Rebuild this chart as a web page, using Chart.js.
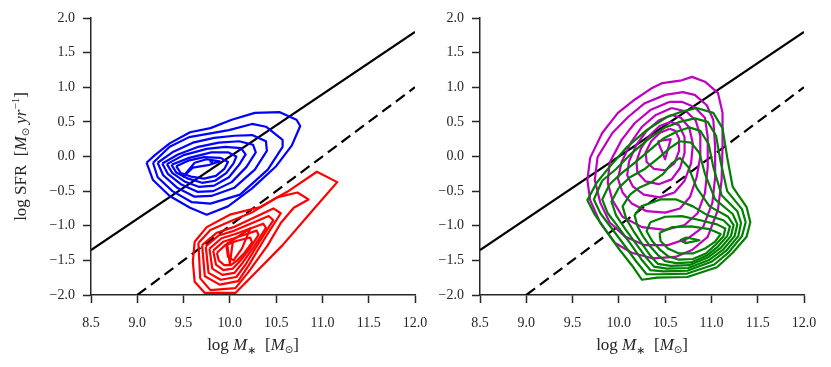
<!DOCTYPE html>
<html>
<head>
<meta charset="utf-8">
<script src="https://cdn.jsdelivr.net/npm/chart.js@4.4.1/dist/chart.umd.min.js"></script>
<style>
  body { margin: 0; background: #fff; }
  #wrap { position: relative; width: 831px; height: 367px; }
  canvas { position: absolute; top: 0; }
</style>
</head>
<body>
<div id="wrap">
  <canvas id="left" width="445" height="367" style="left:0"></canvas>
  <canvas id="right" width="401" height="367" style="left:430px"></canvas>
</div>
<script>
// axis ticks
const xTicks = [8.5, 9.0, 9.5, 10.0, 10.5, 11.0, 11.5, 12.0];
const yTicks = [-2.0, -1.5, -1.0, -0.5, 0.0, 0.5, 1.0, 1.5, 2.0];

// reference lines (log M*, log SFR)
const solidLine = [[8.5, -1.35], [12.0, 1.8]];
const dashedLine = [[9.0, -2.0], [12.0, 1.0]];

// density contours, outer level first
const blueLevels = [
  [[9.10,-0.09],[9.17,-0.34],[9.35,-0.57],[9.57,-0.74],[9.75,-0.84],[9.98,-0.72],[10.24,-0.46],[10.50,-0.14],[10.67,0.16],[10.76,0.44],[10.72,0.53],[10.54,0.64],[10.27,0.63],[10.02,0.53],[9.79,0.41],[9.57,0.35],[9.35,0.19],[9.19,0.02]],
  [[9.17,-0.09],[9.22,-0.30],[9.38,-0.50],[9.59,-0.66],[9.79,-0.68],[10.11,-0.55],[10.41,-0.19],[10.57,0.14],[10.57,0.24],[10.39,0.43],[10.24,0.47],[9.99,0.38],[9.56,0.28],[9.35,0.14]],
  [[9.22,-0.09],[9.28,-0.27],[9.43,-0.45],[9.62,-0.58],[9.80,-0.57],[10.05,-0.45],[10.27,-0.19],[10.40,0.08],[10.39,0.22],[10.24,0.31],[10.05,0.30],[9.83,0.27],[9.60,0.20],[9.39,0.07]],
  [[9.27,-0.10],[9.33,-0.25],[9.47,-0.40],[9.65,-0.51],[9.82,-0.50],[10.02,-0.37],[10.18,-0.15],[10.28,0.06],[10.25,0.17],[10.10,0.22],[9.88,0.20],[9.66,0.14],[9.44,0.03]],
  [[9.32,-0.11],[9.38,-0.24],[9.51,-0.36],[9.67,-0.44],[9.83,-0.42],[9.99,-0.30],[10.10,-0.12],[10.17,0.03],[10.12,0.12],[9.95,0.14],[9.75,0.11],[9.50,0.02]],
  [[9.37,-0.12],[9.42,-0.23],[9.55,-0.32],[9.70,-0.38],[9.84,-0.35],[9.96,-0.24],[10.04,-0.10],[10.07,0.00],[9.98,0.06],[9.80,0.06],[9.56,-0.02]],
  [[9.42,-0.14],[9.47,-0.24],[9.58,-0.29],[9.72,-0.32],[9.85,-0.28],[9.94,-0.18],[9.98,-0.08],[9.90,-0.02],[9.72,-0.01],[9.55,-0.06]],
  [[9.49,-0.30],[9.55,-0.20],[9.62,-0.09],[9.75,-0.04],[9.89,-0.07],[9.78,-0.12],[9.60,-0.16]],
  [[9.78,-0.07],[9.80,-0.06],[9.81,-0.08]]
];

const redLevels = [
  [[9.62,-1.23],[9.75,-1.02],[10.00,-0.84],[10.33,-0.73],[10.62,-0.51],[10.94,-0.22],[11.16,-0.37],[10.90,-0.77],[10.57,-1.28],[10.18,-1.81],[10.06,-1.97],[9.73,-1.97],[9.62,-1.81],[9.60,-1.52]],
  [[9.66,-1.25],[9.79,-1.06],[10.00,-0.94],[10.25,-0.80],[10.51,-0.59],[10.73,-0.52],[10.85,-0.62],[10.69,-0.74],[10.55,-0.96],[10.41,-1.28],[10.20,-1.67],[10.06,-1.90],[9.79,-1.93],[9.68,-1.76]],
  [[9.70,-1.28],[9.86,-1.10],[10.04,-1.02],[10.47,-0.75],[10.55,-0.82],[10.36,-1.22],[10.20,-1.58],[10.09,-1.80],[9.89,-1.85],[9.73,-1.73]],
  [[9.74,-1.30],[9.88,-1.14],[10.05,-1.07],[10.42,-0.86],[10.47,-0.92],[10.31,-1.25],[10.17,-1.56],[10.07,-1.74],[9.90,-1.78],[9.77,-1.68]],
  [[9.78,-1.33],[9.91,-1.18],[10.06,-1.12],[10.36,-0.97],[10.39,-1.03],[10.26,-1.30],[10.14,-1.53],[10.05,-1.68],[9.92,-1.71],[9.81,-1.62]],
  [[9.82,-1.36],[9.93,-1.23],[10.07,-1.17],[10.29,-1.07],[10.31,-1.13],[10.21,-1.34],[10.11,-1.51],[10.03,-1.62],[9.93,-1.64],[9.85,-1.56]],
  [[9.86,-1.39],[9.95,-1.28],[10.07,-1.22],[10.22,-1.17],[10.24,-1.24],[10.16,-1.39],[10.08,-1.50],[10.01,-1.57],[9.94,-1.57],[9.88,-1.50]],
  [[9.96,-1.27],[10.22,-1.04],[10.13,-1.33],[10.04,-1.50],[9.98,-1.45]],
  [[9.97,-1.25],[10.03,-1.25],[10.00,-1.55]]
];

const greenLevels = [
  [[9.76,-0.38],[9.66,-0.63],[9.74,-0.84],[9.87,-1.09],[10.01,-1.35],[10.14,-1.57],[10.25,-1.78],[10.41,-1.75],[10.74,-1.74],[11.06,-1.60],[11.23,-1.39],[11.38,-1.16],[11.42,-0.95],[11.38,-0.73],[11.23,-0.44],[11.17,-0.01],[11.12,0.41],[11.02,0.63],[10.84,0.70],[10.66,0.64],[10.52,0.57],[10.30,0.38],[10.09,0.14],[9.90,-0.15]],
  [[9.82,-0.35],[9.73,-0.62],[9.80,-0.82],[9.93,-1.05],[10.07,-1.30],[10.19,-1.52],[10.30,-1.70],[10.45,-1.70],[10.74,-1.69],[11.03,-1.56],[11.19,-1.38],[11.33,-1.15],[11.37,-0.95],[11.33,-0.76],[11.17,-0.50],[11.10,-0.08],[11.05,0.30],[10.96,0.50],[10.82,0.55],[10.66,0.50],[10.50,0.42],[10.32,0.25],[10.14,0.05],[9.97,-0.18]],
  [[9.90,-0.40],[9.82,-0.62],[9.88,-0.82],[10.00,-1.03],[10.13,-1.27],[10.24,-1.48],[10.34,-1.64],[10.48,-1.66],[10.74,-1.65],[11.00,-1.52],[11.16,-1.36],[11.29,-1.15],[11.32,-0.96],[11.28,-0.79],[11.11,-0.56],[11.02,-0.15],[10.97,0.18],[10.88,0.37],[10.76,0.42],[10.63,0.36],[10.48,0.26],[10.34,0.10],[10.18,-0.08],[10.03,-0.24]],
  [[10.00,-0.45],[9.92,-0.65],[9.97,-0.85],[10.07,-1.05],[10.19,-1.27],[10.29,-1.45],[10.38,-1.59],[10.52,-1.62],[10.75,-1.61],[10.98,-1.49],[11.13,-1.34],[11.25,-1.15],[11.28,-0.98],[11.23,-0.83],[11.04,-0.62],[10.93,-0.25],[10.87,0.05],[10.78,0.20],[10.66,0.22],[10.55,0.12],[10.43,-0.02],[10.28,-0.18],[10.12,-0.30]],
  [[10.12,-0.55],[10.04,-0.72],[10.08,-0.90],[10.16,-1.08],[10.26,-1.28],[10.34,-1.43],[10.42,-1.55],[10.56,-1.58],[10.76,-1.57],[10.96,-1.46],[11.10,-1.32],[11.21,-1.15],[11.24,-0.99],[11.18,-0.87],[10.98,-0.72],[10.84,-0.45],[10.75,-0.15],[10.66,-0.02],[10.57,-0.10],[10.48,-0.25],[10.34,-0.38],[10.22,-0.45]],
  [[10.24,-0.72],[10.17,-0.85],[10.20,-1.00],[10.26,-1.15],[10.34,-1.30],[10.42,-1.42],[10.50,-1.51],[10.62,-1.54],[10.78,-1.53],[10.95,-1.43],[11.07,-1.30],[11.17,-1.15],[11.20,-1.01],[11.13,-0.92],[10.96,-0.85],[10.80,-0.72],[10.62,-0.62],[10.45,-0.62]],
  [[10.34,-0.95],[10.30,-1.08],[10.36,-1.22],[10.44,-1.34],[10.53,-1.44],[10.65,-1.49],[10.80,-1.48],[10.94,-1.40],[11.04,-1.28],[11.13,-1.15],[11.15,-1.04],[11.06,-0.98],[10.88,-0.92],[10.68,-0.86],[10.50,-0.87]],
  [[10.44,-1.10],[10.45,-1.22],[10.53,-1.33],[10.65,-1.40],[10.80,-1.40],[10.93,-1.33],[11.04,-1.23],[11.10,-1.12],[10.98,-1.05],[10.78,-1.01],[10.58,-1.02]],
  [[10.66,-1.21],[10.73,-1.17],[10.87,-1.21],[10.72,-1.25]]
];

const magentaLevels = [
  [[10.68,1.10],[10.47,1.06],[10.36,0.99],[10.17,0.82],[9.99,0.63],[9.82,0.34],[9.69,-0.02],[9.66,-0.34],[9.69,-0.63],[9.80,-0.96],[9.96,-1.25],[10.14,-1.39],[10.36,-1.47],[10.61,-1.45],[10.79,-1.35],[10.96,-1.16],[11.07,-0.77],[11.11,-0.34],[11.12,0.14],[11.12,0.63],[11.07,0.92],[10.93,1.08],[10.79,1.15]],
  [[10.50,0.89],[10.28,0.77],[10.10,0.57],[9.93,0.34],[9.77,-0.01],[9.74,-0.34],[9.80,-0.67],[9.90,-0.95],[10.07,-1.16],[10.28,-1.28],[10.53,-1.28],[10.75,-1.18],[10.91,-1.02],[11.01,-0.67],[11.04,-0.30],[11.04,0.14],[11.02,0.53],[10.95,0.74],[10.82,0.89],[10.69,0.93]],
  [[10.55,0.79],[10.34,0.67],[10.17,0.48],[10.03,0.24],[9.90,-0.09],[9.88,-0.38],[9.93,-0.63],[10.04,-0.87],[10.25,-1.02],[10.50,-1.06],[10.71,-0.99],[10.85,-0.82],[10.93,-0.53],[10.96,-0.15],[10.96,0.28],[10.93,0.56],[10.82,0.71],[10.68,0.79]],
  [[10.57,0.70],[10.40,0.60],[10.25,0.43],[10.13,0.20],[10.03,-0.08],[9.99,-0.32],[10.04,-0.52],[10.14,-0.68],[10.30,-0.79],[10.50,-0.81],[10.66,-0.75],[10.77,-0.58],[10.84,-0.30],[10.88,0.00],[10.88,0.30],[10.83,0.52],[10.73,0.65]],
  [[10.57,0.60],[10.43,0.52],[10.30,0.37],[10.19,0.17],[10.11,-0.07],[10.09,-0.27],[10.15,-0.43],[10.27,-0.55],[10.44,-0.59],[10.60,-0.52],[10.71,-0.35],[10.78,-0.10],[10.80,0.18],[10.76,0.42],[10.67,0.56]],
  [[10.56,0.50],[10.44,0.44],[10.33,0.30],[10.24,0.12],[10.19,-0.07],[10.20,-0.23],[10.29,-0.36],[10.43,-0.40],[10.57,-0.33],[10.66,-0.17],[10.71,0.05],[10.71,0.28],[10.65,0.45]],
  [[10.55,0.40],[10.44,0.34],[10.35,0.22],[10.29,0.06],[10.30,-0.08],[10.38,-0.18],[10.50,-0.20],[10.60,-0.10],[10.65,0.08],[10.65,0.26],[10.61,0.37]],
  [[10.42,0.22],[10.56,0.25],[10.50,-0.04]],
  [[10.69,-1.22],[10.72,-1.21],[10.71,-1.23]]
];

const FONT = '"Liberation Serif", "DejaVu Serif", serif';

function fmt(v) {
  return v.toFixed(1).replace('-', '\u2212');
}

function contourSets(levels, color) {
  return levels.map(function (poly) {
    var pts = poly.map(function (p) { return { x: p[0], y: p[1] }; });
    pts.push({ x: poly[0][0], y: poly[0][1] });
    return {
      data: pts, showLine: true, borderColor: color, borderWidth: 2.2,
      borderJoinStyle: 'round', pointRadius: 0, fill: false, tension: 0
    };
  });
}

function refLine(pts, dash) {
  return {
    data: pts.map(function (p) { return { x: p[0], y: p[1] }; }),
    showLine: true, borderColor: '#000', borderWidth: 2.2, borderDash: dash,
    pointRadius: 0, fill: false
  };
}

function drawParts(ctx, parts, cx, cy) {
  var w = 0;
  parts.forEach(function (p) { ctx.font = p[1]; w += ctx.measureText(p[0]).width; });
  var x = cx - w / 2;
  ctx.textAlign = 'left';
  ctx.textBaseline = 'alphabetic';
  parts.forEach(function (p) {
    ctx.font = p[1];
    ctx.fillText(p[0], x, cy + (p[2] || 0));
    x += ctx.measureText(p[0]).width;
  });
}

const xTitle = [
  ['log ', '17px ' + FONT], ['M', 'italic 17px ' + FONT], ['\u2217', '11px "DejaVu Sans"', 4],
  ['  [', '17px ' + FONT], ['M', 'italic 17px ' + FONT], ['\u2299', '10px "DejaVu Sans"', 3],
  [']', '17px ' + FONT]
];
const yTitle = [
  ['log SFR  [', '17px ' + FONT], ['M', 'italic 17px ' + FONT], ['\u2299', '10px "DejaVu Sans"', 3],
  [' yr', 'italic 17px ' + FONT], ['\u22121', '11px ' + FONT, -7], [']', '17px ' + FONT]
];

function titlePlugin(withY) {
  return {
    id: 'titles',
    afterDraw: function (chart) {
      var ctx = chart.ctx, a = chart.chartArea;
      ctx.save();
      ctx.fillStyle = '#262626';
      drawParts(ctx, xTitle, (a.left + a.right) / 2, 350);
      if (withY) {
        ctx.translate(26, (a.top + a.bottom) / 2);
        ctx.rotate(-Math.PI / 2);
        drawParts(ctx, yTitle, 0, 0);
      }
      ctx.restore();
    }
  };
}

function axisOpts(ticks, min, max, fit, pad) {
  return {
    type: 'linear', min: min, max: max,
    afterBuildTicks: function (s) { s.ticks = ticks.map(function (v) { return { value: v }; }); },
    afterFit: fit,
    grid: { drawOnChartArea: false, drawTicks: true, tickLength: 8, tickWidth: 1.5, tickColor: '#262626' },
    border: { display: true, color: '#262626', width: 1.5 },
    ticks: {
      color: '#262626', font: { family: FONT, size: 14 }, padding: pad,
      maxRotation: 0, autoSkip: false, callback: function (v) { return fmt(v); }
    }
  };
}

function makeChart(id, datasets, yWidth, padRight, withY) {
  new Chart(document.getElementById(id), {
    type: 'scatter',
    data: { datasets: datasets },
    options: {
      responsive: false, animation: false,
      layout: { padding: { top: 18, right: padRight, bottom: 0, left: 0 } },
      plugins: { legend: { display: false }, tooltip: { enabled: false } },
      scales: {
        x: axisOpts(xTicks, 8.5, 12.0, function (s) { s.height = 72; }, 12),
        y: axisOpts(yTicks, -2.0, 2.0, function (s) { s.width = yWidth; }, 8)
      }
    },
    plugins: [titlePlugin(withY)]
  });
}

makeChart('left',
  contourSets(blueLevels, '#0000ff')
    .concat(contourSets(redLevels, '#ff0000'))
    .concat([refLine(solidLine, []), refLine(dashedLine, [11, 6])]),
  91, 30, true);

makeChart('right',
  contourSets(greenLevels, '#008000')
    .concat(contourSets(magentaLevels, '#bf00bf'))
    .concat([refLine(solidLine, []), refLine(dashedLine, [11, 6])]),
  50, 27, false);
</script>
</body>
</html>
